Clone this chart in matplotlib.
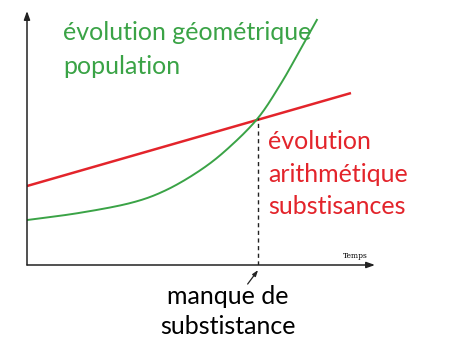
import matplotlib
matplotlib.use("Agg")
import matplotlib.pyplot as plt
import numpy as np

# data (arbitrary units, time 0..10, value 0..10)
red_t = [0.0, 9.31]
red_y = [3.11, 6.77]
green_t = [0.0, 1.5, 3.0, 4.0, 5.0, 5.8, 6.64, 7.3, 7.8, 8.33]
green_y = [1.77, 2.05, 2.45, 2.95, 3.75, 4.62, 5.79, 7.15, 8.35, 9.65]
cross_t = 6.64
cross_y = 5.79

GREEN = "#3aa346"
RED = "#e3242b"
FONT = ["Lato", "DejaVu Sans"]


def catmull_rom(xs, ys, n=30):
    xs = np.asarray(xs, float); ys = np.asarray(ys, float)
    P = np.column_stack([xs, ys])
    P = np.vstack([2 * P[0] - P[1], P, 2 * P[-1] - P[-2]])
    out = []
    u = np.linspace(0, 1, n, endpoint=False)[:, None]
    for i in range(1, len(P) - 2):
        p0, p1, p2, p3 = P[i - 1], P[i], P[i + 1], P[i + 2]
        seg = 0.5 * ((2 * p1) + (-p0 + p2) * u + (2 * p0 - 5 * p1 + 4 * p2 - p3) * u ** 2
                     + (-p0 + 3 * p1 - 3 * p2 + p3) * u ** 3)
        out.append(seg)
    out.append(P[-2][None, :])
    out = np.vstack(out)
    return out[:, 0], out[:, 1]


fig = plt.figure(figsize=(4.56, 3.46), dpi=100)
ax = fig.add_axes([27/456, (346-265)/346, 348/456, 254/346])
ax.set_xlim(0, 10)
ax.set_ylim(0, 10)
ax.axis("off")

# axes with arrows
ax.annotate("", xy=(10, 0), xytext=(0, 0), xycoords="data",
            arrowprops=dict(arrowstyle="-|>,head_length=0.5,head_width=0.18", lw=1.1, color="#222222",
                            shrinkA=0, shrinkB=0), annotation_clip=False)
ax.annotate("", xy=(0, 10), xytext=(0, 0), xycoords="data",
            arrowprops=dict(arrowstyle="-|>,head_length=0.5,head_width=0.18", lw=1.1, color="#222222",
                            shrinkA=0, shrinkB=0), annotation_clip=False)

ax.plot(red_t, red_y, color=RED, lw=1.8, solid_capstyle="butt")
sx, sy = catmull_rom(green_t, green_y)
ax.plot(sx, sy, color=GREEN, lw=1.4)

ax.plot([cross_t, cross_t], [0, cross_y], color="#222222", lw=1.0, ls=(0, (3, 2.5)))

ax.text(9.45, 0.18, "Temps", fontsize=5.5, family="DejaVu Serif", ha="center", va="bottom")

# arrow to crossing time
ax.annotate("", xy=(cross_t, -0.2), xytext=(cross_t - 0.3, -0.75),
            arrowprops=dict(arrowstyle="-|>,head_length=0.35,head_width=0.12", lw=0.9, color="#222222",
                            shrinkA=0, shrinkB=0), annotation_clip=False)

FS = 18
fig.text(63/456, 1 - 33/346, "évolution géométrique", color=GREEN, fontsize=FS, family=FONT, va="center", ha="left")
fig.text(63/456, 1 - 66/346, "population", color=GREEN, fontsize=FS, family=FONT, va="center", ha="left")

fig.text(268/456, 1 - 141/346, "évolution", color=RED, fontsize=FS, family=FONT, va="center", ha="left")
fig.text(268/456, 1 - 174/346, "arithmétique", color=RED, fontsize=FS, family=FONT, va="center", ha="left")
fig.text(268/456, 1 - 207/346, "substisances", color=RED, fontsize=FS, family=FONT, va="center", ha="left")

fig.text(228/456, 1 - 296/346, "manque de", color="black", fontsize=FS, family=FONT, va="center", ha="center")
fig.text(228/456, 1 - 327/346, "substistance", color="black", fontsize=FS, family=FONT, va="center", ha="center")

fig.savefig("out.png", dpi=100)
